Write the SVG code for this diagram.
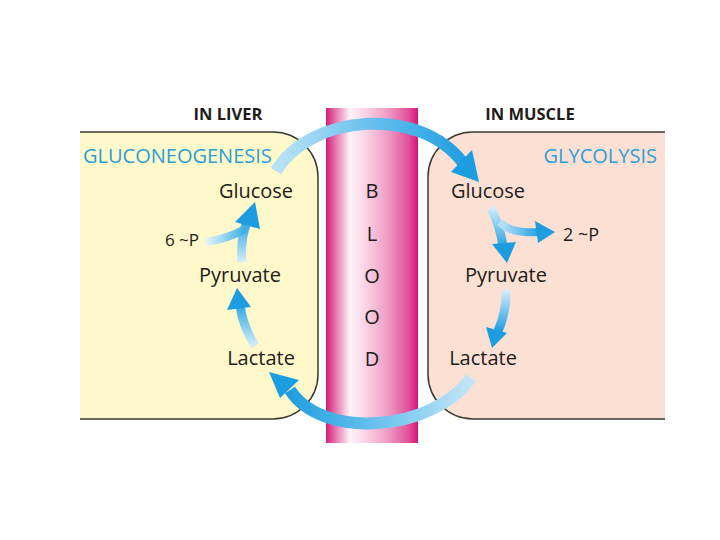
<svg xmlns="http://www.w3.org/2000/svg" width="720" height="540" viewBox="0 0 720 540">
<defs>
<linearGradient id="blood" x1="0" y1="0" x2="1" y2="0">
<stop offset="0" stop-color="#d21c78"/>
<stop offset="0.08" stop-color="#e25fa2"/>
<stop offset="0.26" stop-color="#fdf3f8"/>
<stop offset="0.36" stop-color="#fbe2ee"/>
<stop offset="0.65" stop-color="#f0a2c8"/>
<stop offset="0.9" stop-color="#e14f98"/>
<stop offset="1" stop-color="#d3177a"/>
</linearGradient>
<linearGradient id="gTop" gradientUnits="userSpaceOnUse" x1="280" y1="0" x2="470" y2="0">
<stop offset="0" stop-color="#b8e1f6"/>
<stop offset="0.45" stop-color="#6cc2ee"/>
<stop offset="1" stop-color="#1b9de0"/>
</linearGradient>
<linearGradient id="gBot" gradientUnits="userSpaceOnUse" x1="470" y1="0" x2="285" y2="0">
<stop offset="0" stop-color="#c2e5f7"/>
<stop offset="0.45" stop-color="#73c5ee"/>
<stop offset="1" stop-color="#1b9de0"/>
</linearGradient>
<linearGradient id="gUp1" gradientUnits="userSpaceOnUse" x1="0" y1="346" x2="0" y2="300">
<stop offset="0" stop-color="#d4eefa"/>
<stop offset="1" stop-color="#1b9de0"/>
</linearGradient>
<linearGradient id="gUp2" gradientUnits="userSpaceOnUse" x1="0" y1="262" x2="0" y2="218">
<stop offset="0" stop-color="#d4eefa"/>
<stop offset="1" stop-color="#1b9de0"/>
</linearGradient>
<linearGradient id="gBr1" gradientUnits="userSpaceOnUse" x1="207" y1="0" x2="245" y2="0">
<stop offset="0" stop-color="#e2f3fb"/>
<stop offset="1" stop-color="#3aaee6"/>
</linearGradient>
<linearGradient id="gDn1" gradientUnits="userSpaceOnUse" x1="0" y1="207" x2="0" y2="250">
<stop offset="0" stop-color="#d4eefa"/>
<stop offset="1" stop-color="#1b9de0"/>
</linearGradient>
<linearGradient id="gBr2" gradientUnits="userSpaceOnUse" x1="503" y1="0" x2="540" y2="0">
<stop offset="0" stop-color="#b5dff6"/>
<stop offset="1" stop-color="#1b9de0"/>
</linearGradient>
<linearGradient id="gDn2" gradientUnits="userSpaceOnUse" x1="0" y1="290" x2="0" y2="332">
<stop offset="0" stop-color="#d4eefa"/>
<stop offset="1" stop-color="#1b9de0"/>
</linearGradient>
</defs>
<style>
.lbl{font-family:"Open Sans","Liberation Sans",sans-serif;font-size:20px;font-weight:500;fill:#221b18;text-anchor:middle}
.hdr{font-family:"Open Sans","Liberation Sans",sans-serif;font-size:16.5px;font-weight:bold;fill:#221b18;text-anchor:middle}
.proc{font-family:"Open Sans","Liberation Sans",sans-serif;font-size:20px;font-weight:500;fill:#2b9fd6}
.bl{font-family:"Open Sans","Liberation Sans",sans-serif;font-size:20px;font-weight:500;fill:#221b18;text-anchor:middle}
.edge{fill:none;stroke:#3b3a30;stroke-width:1.5}
.shaft{fill:none;stroke-linecap:butt}
.head{fill:#1b9de0}
</style>
<rect width="720" height="540" fill="#ffffff"/>

<g id="liver">
<path d="M80 132 H273 A45 45 0 0 1 318 177 V374 A45 45 0 0 1 273 419 H80 Z" fill="#fef8cb"/>
<path class="edge" d="M80 132 H273 A45 45 0 0 1 318 177 V374 A45 45 0 0 1 273 419 H80"/>
<text class="hdr" x="228" y="120">IN LIVER</text>
<text class="proc" x="83" y="163">GLUCONEOGENESIS</text>
</g>

<g id="muscle">
<path d="M665 132 H473 A45 45 0 0 0 428 177 V374 A45 45 0 0 0 473 419 H665 Z" fill="#fce0d4"/>
<path class="edge" d="M665 132 H473 A45 45 0 0 0 428 177 V374 A45 45 0 0 0 473 419 H665"/>
<text class="hdr" x="530" y="120">IN MUSCLE</text>
<text class="proc" x="657" y="163" text-anchor="end">GLYCOLYSIS</text>
</g>

<g id="blood-column">
<rect x="326" y="108" width="92" height="335" fill="url(#blood)"/>
<text class="bl" x="372" y="198">B</text>
<text class="bl" x="372" y="241">L</text>
<text class="bl" x="372" y="283">O</text>
<text class="bl" x="372" y="324">O</text>
<text class="bl" x="372" y="366">D</text>
</g>

<g id="liver-glucose"><text class="lbl" x="256" y="198">Glucose</text></g>
<g id="liver-6p"><text class="lbl" x="182" y="246" style="font-size:17px">6 ~P</text></g>
<g id="liver-pyruvate"><text class="lbl" x="240" y="282">Pyruvate</text></g>
<g id="liver-lactate"><text class="lbl" x="261" y="365">Lactate</text></g>
<g id="muscle-glucose"><text class="lbl" x="488" y="198">Glucose</text></g>
<g id="muscle-2p"><text class="lbl" x="581" y="241" style="font-size:18px">2 ~P</text></g>
<g id="muscle-pyruvate"><text class="lbl" x="506" y="282">Pyruvate</text></g>
<g id="muscle-lactate"><text class="lbl" x="483" y="365">Lactate</text></g>

<g id="connectors">
<path class="shaft" d="M276 171 C310 114 420 105 463 163" stroke="url(#gTop)" stroke-width="12"/>
<polygon class="head" points="479,182 451,172 472,150"/>
<path class="shaft" d="M471 378 C432 432 322 440 290 390" stroke="url(#gBot)" stroke-width="12"/>
<polygon class="head" points="269,372 280,398 299,380"/>
<path class="shaft" d="M255 346 Q242 324 240 305" stroke="url(#gUp1)" stroke-width="9"/>
<polygon class="head" points="237,288 227,310 251,307"/>
<path class="shaft" d="M242 262 Q240 240 247 222" stroke="url(#gUp2)" stroke-width="9"/>
<path class="shaft" d="M206 242 Q230 238 245 229" stroke="url(#gBr1)" stroke-width="8"/>
<polygon class="head" points="255,202 235,222 260,229"/>
<path class="shaft" d="M491 208 Q500 226 503 246" stroke="url(#gDn1)" stroke-width="9"/>
<polygon class="head" points="507,263 492,244 516,242"/>
<path class="shaft" d="M500 222 Q510 234 538 232" stroke="url(#gBr2)" stroke-width="8"/>
<polygon class="head" points="555,232 535,221 538,243"/>
<path class="shaft" d="M506 290 Q507 310 498 331" stroke="url(#gDn2)" stroke-width="9"/>
<polygon class="head" points="492,348 486,327 507,333"/>
</g>
</svg>
